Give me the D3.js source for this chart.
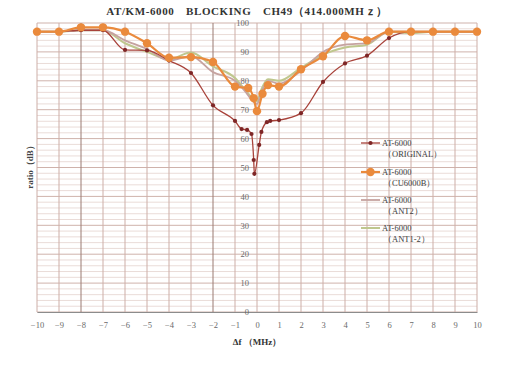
<!DOCTYPE html>
<html>
<head>
<meta charset="utf-8">
<script src="https://cdn.jsdelivr.net/npm/d3@7/dist/d3.min.js"></script>
<style>
  html, body { margin: 0; padding: 0; background: #fff; }
  svg { display: block; }
  text { font-family: "Liberation Serif", "DejaVu Serif", serif; }
</style>
</head>
<body>
<svg id="chart" width="512" height="369"></svg>
<script>
// Frequency offsets (MHz) and blocking ratios (dB) for each configuration
const freqOriginal  = [-10,-9,-8,-7,-6,-5,-4,-3,-2,-1,-0.7,-0.45,-0.25,-0.15,-0.12,0.1,0.2,0.45,0.6,1,2,3,4,5,6,7,8,9,10];
const ratioOriginal = [97,97,97.5,97.5,90.7,90.5,87,82.7,71.5,66.1,63.3,63,61.6,52.6,47.8,57.8,62.3,65.7,66.1,66.4,68.8,79.6,86,88.7,94.8,97,97,97,97];

const freqCU  = [-10,-9,-8,-7,-6,-5,-4,-3,-2,-1,-0.4,-0.15,0,0.25,0.5,1,2,3,4,5,6,7,8,9,10];
const ratioCU = [97,97,98.5,98.5,97,93,88,88.2,86.5,78,77.5,74,69.5,75.5,78.5,78,84,88.5,95.5,94,97,97,97,97,97];

const freqAnt  = [-10,-9,-8,-7,-6,-5,-4,-3,-2,-1,-0.5,-0.2,0,0.2,0.5,1,2,3,4,5,6,7,8,9,10];
const ratioAnt2  = [97,97,97.5,97.5,94,91,87,88.5,83,80,76,73,72,76,80,79,83.5,90,92.5,93,97,97,97,97,97];
const ratioAnt12 = [97,97,97.5,97.5,93,90,87.5,89.8,85,81,76.5,74,73,77,80.5,80,84.5,89,91.5,92.5,97,96.5,97,97,97];

const xTicks = d3.range(-10, 11, 1);
const yTicks = d3.range(0, 101, 10);

const seriesNames = ["AT-6000", "AT-6000", "AT-6000", "AT-6000"];
const seriesTags  = ["（ORIGINAL）", "（CU6000B）", "（ANT2）", "（ANT1-2）"];

const titleText = "AT/KM-6000　BLOCKING　CH49（414.000MHｚ）";
const xTitle = "Δf （MHz）";
const yTitle = "ratio（dB）";

const series = [
  { freq: freqOriginal, ratio: ratioOriginal, color: "#a8423a", width: 1.3, marker: 2.1, markerColor: "#7e2626" },
  { freq: freqCU,       ratio: ratioCU,       color: "#ea8a3c", width: 2.2, marker: 4.2, markerColor: "#ea8a3c" },
  { freq: freqAnt,      ratio: ratioAnt2,     color: "#c6a3a0", width: 1.8, marker: 0,   markerColor: "#c6a3a0" },
  { freq: freqAnt,      ratio: ratioAnt12,    color: "#bfc78e", width: 2.0, marker: 0,   markerColor: "#bfc78e" }
];

const svg = d3.select("#chart");
const x = d3.scaleLinear().domain([-10, 10]).range([37, 477]);
const y = d3.scaleLinear().domain([0, 100]).range([312, 23]);

// Grid: minor every 2 dB, major every 10 dB, one vertical per MHz
const grid = svg.append("g");
grid.selectAll("line.minor").data(d3.range(0, 101, 2)).join("line")
  .attr("x1", x(-10)).attr("x2", x(10))
  .attr("y1", d => y(d)).attr("y2", d => y(d))
  .attr("stroke", d => d % 10 === 0 ? "#cfb2ab" : "#eadcd8")
  .attr("stroke-width", 1);
grid.selectAll("line.v").data(xTicks).join("line")
  .attr("x1", d => x(d)).attr("x2", d => x(d))
  .attr("y1", y(0)).attr("y2", y(100))
  .attr("stroke", d => (d === -8 || d === -2) ? "#9a7a72" : "#cdaea7")
  .attr("stroke-width", 1);

// Bottom axis
const xAxis = d3.axisBottom(x).tickValues(xTicks).tickSize(0).tickPadding(10);
const gx = svg.append("g").attr("transform", `translate(0,${y(0)})`).call(xAxis);
gx.select(".domain").attr("stroke", "#8c8c8c").attr("stroke-width", 1.2);
gx.selectAll("text").attr("font-size", 8.5).attr("fill", "#6a6a6a")
  .attr("font-family", "Liberation Serif, serif");

// Vertical axis labels sit beside the zero-offset line
const yAxis = d3.axisLeft(y).tickValues(yTicks).tickSize(0).tickPadding(0);
const gy = svg.append("g").attr("transform", `translate(${x(0) - 8},0)`).call(yAxis);
gy.select(".domain").remove();
gy.selectAll("text").attr("font-size", 8.5).attr("fill", "#6a6a6a")
  .attr("font-family", "Liberation Serif, serif");

// Series lines
const line = d3.line().curve(d3.curveMonotoneX);
const plots = svg.append("g");
[3, 2, 0, 1].forEach(i => {
  const s = series[i];
  const pts = s.freq.map((f, j) => [x(f), y(s.ratio[j])]);
  plots.append("path").attr("d", line(pts))
    .attr("fill", "none").attr("stroke", s.color)
    .attr("stroke-width", s.width).attr("stroke-linejoin", "round");
  if (s.marker > 0) {
    plots.selectAll(null).data(pts).join("circle")
      .attr("cx", d => d[0]).attr("cy", d => d[1])
      .attr("r", s.marker).attr("fill", s.markerColor);
  }
});

// Titles
svg.append("text").attr("x", 247).attr("y", 15).attr("text-anchor", "middle")
  .attr("font-size", 11).attr("font-weight", "bold").attr("fill", "#333")
  .attr("letter-spacing", 0.6)
  .text(titleText);
svg.append("text").attr("x", 257).attr("y", 345).attr("text-anchor", "middle")
  .attr("font-size", 9).attr("font-weight", "bold").attr("fill", "#333")
  .text(xTitle);
svg.append("text").attr("transform", "translate(33,165) rotate(-90)")
  .attr("text-anchor", "middle").attr("font-size", 9).attr("font-weight", "bold")
  .attr("fill", "#444").text(yTitle);

// Legend
const legend = svg.append("g");
const legendTop = [143, 172, 200, 228];
series.forEach((s, i) => {
  const ly = legendTop[i];
  legend.append("line").attr("x1", 361).attr("x2", 380).attr("y1", ly).attr("y2", ly)
    .attr("stroke", s.color).attr("stroke-width", s.width);
  if (s.marker > 0) {
    legend.append("circle").attr("cx", 370.5).attr("cy", ly).attr("r", s.marker)
      .attr("fill", s.markerColor);
  }
  legend.append("text").attr("x", 382).attr("y", ly + 3).attr("font-size", 8.5)
    .attr("fill", "#3c3c3c").text(seriesNames[i]);
  legend.append("text").attr("x", 383).attr("y", ly + 14).attr("font-size", 8.5)
    .attr("fill", "#3c3c3c").text(seriesTags[i]);
});
</script>
</body>
</html>
